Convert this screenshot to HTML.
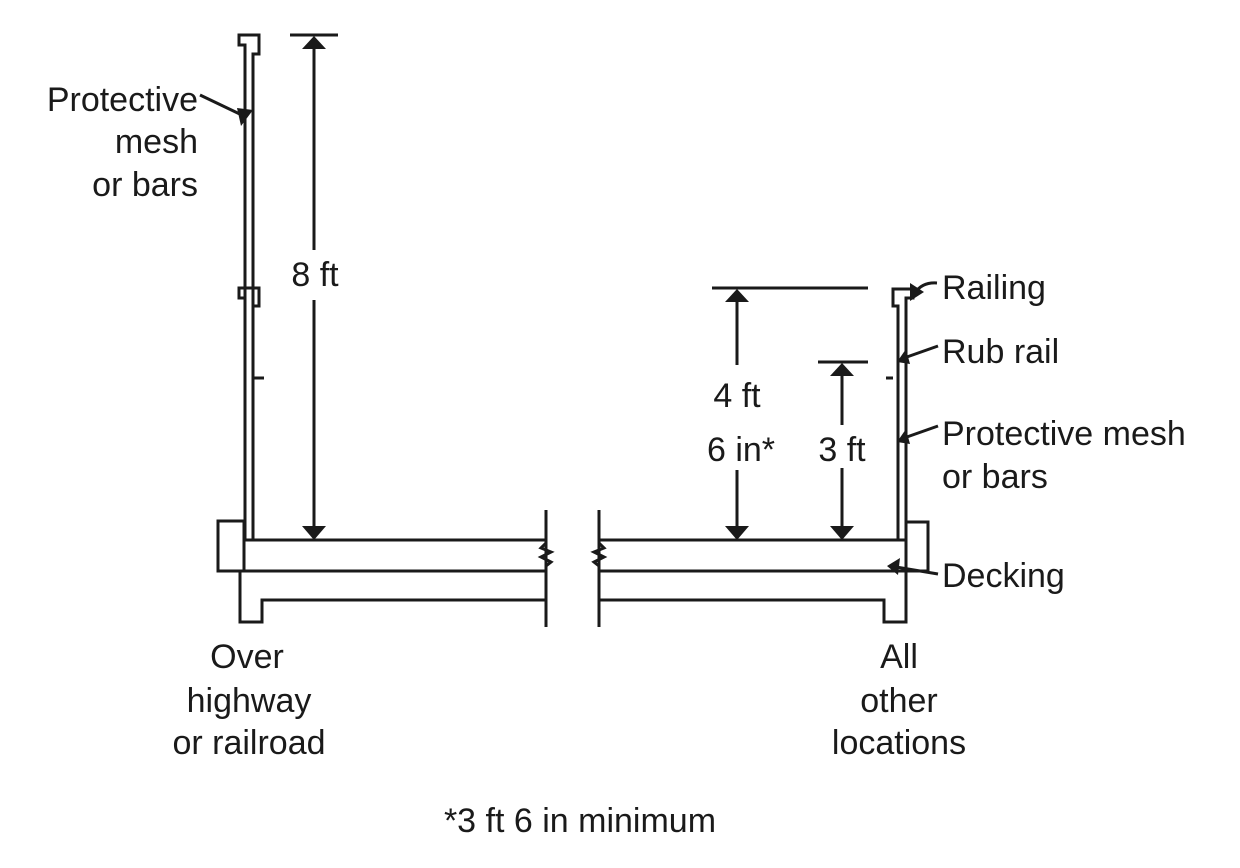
<!DOCTYPE html>
<html><head><style>
html,body{margin:0;padding:0;background:#fff;}
svg{display:block;}
text{font-family:"Liberation Sans",Arial,sans-serif;font-size:34px;fill:#1a1a1a;}
</style></head><body>
<svg width="1240" height="868" viewBox="0 0 1240 868" xmlns="http://www.w3.org/2000/svg">
<g stroke="#1a1a1a" stroke-width="3" fill="none" stroke-linejoin="miter">
<!-- LEFT -->
<polyline points="245,540 245,45 239,45 239,35 259,35 259,54 253,54 253,540"/>
<polyline points="245,298 239,298 239,288 259,288 259,306 253,306"/>
<line x1="254" y1="378" x2="264" y2="378"/>
<rect x="218" y="521" width="26" height="50"/>
<line x1="244" y1="540" x2="546" y2="540"/>
<line x1="244" y1="571" x2="546" y2="571"/>
<polyline points="240,571 240,622 262,622 262,600 546,600"/>
<line x1="546" y1="510" x2="546" y2="627"/>
<line x1="599" y1="510" x2="599" y2="627"/>
<polyline points="546,543 541,548 551,552 541,557 551,562 546,566" stroke-width="3"/>
<polyline points="599,543 604,548 594,552 604,557 594,562 599,566" stroke-width="3"/>
<!-- RIGHT -->
<line x1="599" y1="540" x2="906" y2="540"/>
<line x1="599" y1="571" x2="928" y2="571"/>
<polyline points="599,600 884,600 884,622 906,622 906,522 928,522 928,571"/>
<polyline points="898,540 898,306 893,306 893,289 913,289 913,298 906,298 906,540"/>
<line x1="886" y1="378" x2="893" y2="378"/>
<!-- dimensions -->
<line x1="290" y1="35" x2="338" y2="35"/>
<line x1="314" y1="45" x2="314" y2="250"/>
<line x1="314" y1="300" x2="314" y2="530"/>
<line x1="712" y1="288" x2="868" y2="288"/>
<line x1="737" y1="298" x2="737" y2="365"/>
<line x1="737" y1="470" x2="737" y2="530"/>
<line x1="818" y1="362" x2="868" y2="362"/>
<line x1="842" y1="372" x2="842" y2="425"/>
<line x1="842" y1="468" x2="842" y2="530"/>
<!-- leaders -->
<line x1="200" y1="95" x2="246" y2="117"/>
<path d="M937,283 Q922,282 915,293"/>
<line x1="938" y1="346" x2="904" y2="358"/>
<line x1="938" y1="426" x2="904" y2="438"/>
<line x1="938" y1="574" x2="896" y2="567"/>
</g>
<g fill="#1a1a1a">
<polygon points="302,49 326,49 314,36"/>
<polygon points="302,526 326,526 314,540"/>
<polygon points="725,302 749,302 737,289"/>
<polygon points="725,526 749,526 737,540"/>
<polygon points="830,376 854,376 842,363"/>
<polygon points="830,526 854,526 842,540"/>
<polygon points="241,126 253,110 237,108"/>
<polygon points="910,301 910,283 924,292"/>
<polygon points="897,362 906,349 910,364"/>
<polygon points="897,442 906,429 910,444"/>
<polygon points="887,566 900,558 898,575"/>
</g>
<text x="198" y="111" text-anchor="end">Protective</text>
<text x="198" y="153" text-anchor="end">mesh</text>
<text x="198" y="196" text-anchor="end">or bars</text>
<text x="315" y="286" text-anchor="middle">8 ft</text>
<text x="737" y="407" text-anchor="middle">4 ft</text>
<text x="741" y="461" text-anchor="middle">6 in*</text>
<text x="842" y="461" text-anchor="middle">3 ft</text>
<text x="942" y="299">Railing</text>
<text x="942" y="363">Rub rail</text>
<text x="942" y="445">Protective mesh</text>
<text x="942" y="488">or bars</text>
<text x="942" y="587">Decking</text>
<text x="247" y="668" text-anchor="middle">Over</text>
<text x="249" y="712" text-anchor="middle">highway</text>
<text x="249" y="754" text-anchor="middle">or railroad</text>
<text x="899" y="668" text-anchor="middle">All</text>
<text x="899" y="712" text-anchor="middle">other</text>
<text x="899" y="754" text-anchor="middle">locations</text>
<text x="580" y="832" text-anchor="middle">*3 ft 6 in minimum</text>
</svg>
</body></html>
